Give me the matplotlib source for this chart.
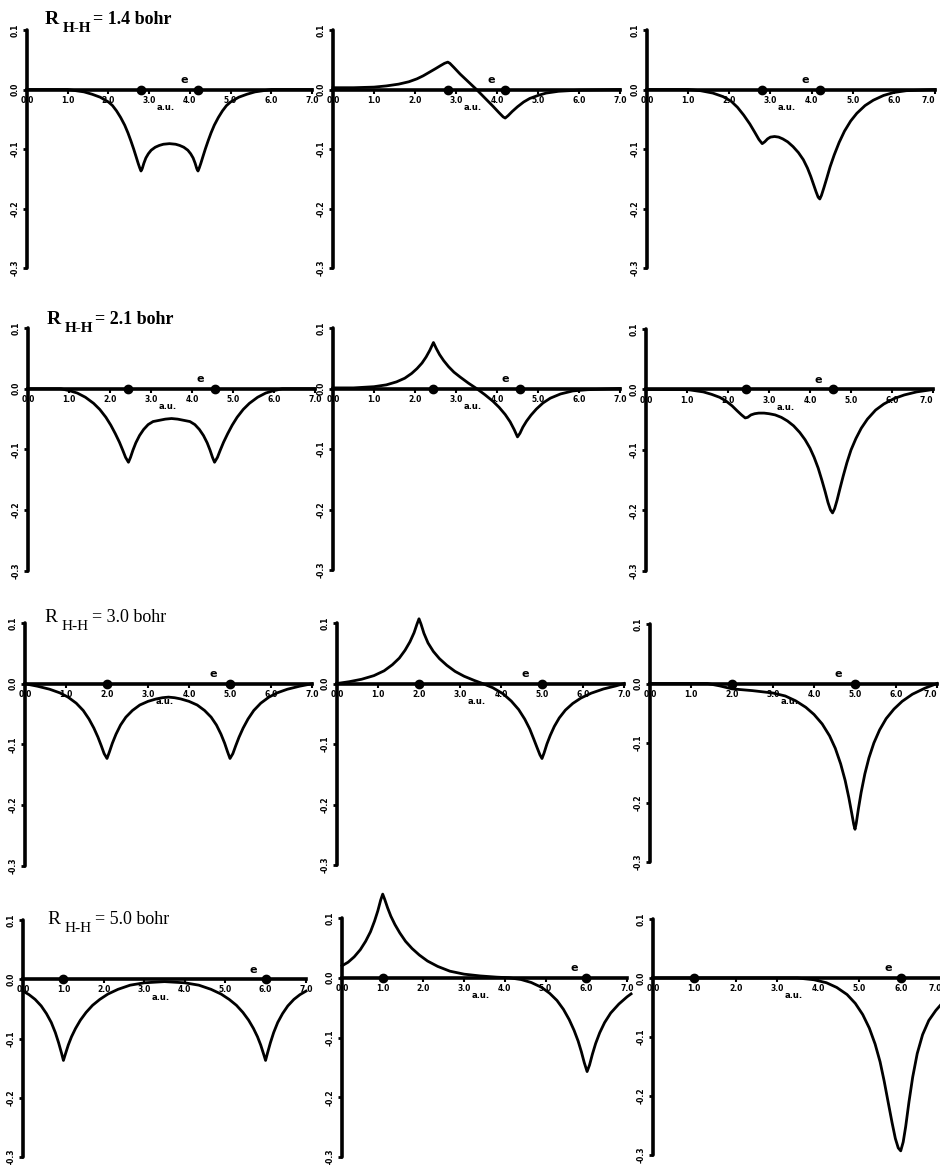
import matplotlib.pyplot as plt

W, H = 940, 1165
plt.rcParams['font.family'] = ['DejaVu Sans']

# distances and nuclei positions (a.u.) for each row
distances = ['1.4', '2.1', '3.0', '5.0']
nuclei = [[2.8, 4.2], [2.45, 4.55], [2.0, 5.0], [1.0, 6.0]]
e_mark = [3.85, 4.2, 4.6, 5.7]

x_ticks = [0, 1, 2, 3, 4, 5, 6, 7]
x_tick_labels = ['0.0', '1.0', '2.0', '3.0', '4.0', '5.0', '6.0', '7.0']
y_ticks = [0.1, 0.0, -0.1, -0.2, -0.3]
y_tick_labels = ['0.1', '0.0', '-0.1', '-0.2', '-0.3']

# row 1 (R = 1.4 bohr)
r1a_x = [0.0, 1.0, 1.2, 1.4, 1.6, 1.8, 2.0, 2.1, 2.2, 2.3, 2.4, 2.48, 2.55, 2.62, 2.68, 2.73,
         2.77, 2.8, 2.83, 2.87, 2.92, 2.98, 3.05, 3.15, 3.25, 3.35, 3.5,
         3.65, 3.75, 3.85, 3.95, 4.02, 4.08, 4.13, 4.17, 4.2, 4.23, 4.27, 4.32, 4.38, 4.45,
         4.52, 4.6, 4.7, 4.8, 4.9, 5.0, 5.2, 5.4, 5.6, 5.8, 6.0, 7.0]
r1a_y = [0.0, 0.0, -0.002, -0.004, -0.008, -0.013, -0.021, -0.027, -0.036, -0.047, -0.060,
         -0.073, -0.086, -0.100, -0.113, -0.124, -0.132, -0.137, -0.133, -0.124, -0.115,
         -0.108, -0.102, -0.097, -0.094, -0.092, -0.091,
         -0.092, -0.094, -0.097, -0.102, -0.108, -0.115, -0.124, -0.133, -0.137, -0.132,
         -0.124, -0.113, -0.100, -0.086, -0.073, -0.060, -0.047, -0.036, -0.027, -0.021,
         -0.013, -0.008, -0.004, -0.002, 0.0, 0.0]
r1b_x = [0.0, 0.5, 1.0, 1.3, 1.6, 1.85, 2.05, 2.2, 2.35, 2.5, 2.62, 2.72, 2.8, 2.85, 2.95,
         3.1, 3.3, 3.5, 3.7, 3.9, 4.05, 4.15, 4.2, 4.27, 4.37, 4.5, 4.65, 4.8, 5.0, 5.2, 5.5,
         6.0, 7.0]
r1b_y = [0.003, 0.003, 0.004, 0.006, 0.009, 0.013, 0.018, 0.023, 0.029, 0.035, 0.040, 0.044,
         0.046, 0.044, 0.037, 0.026, 0.013, 0.0, -0.014, -0.028, -0.039, -0.046, -0.048,
         -0.044, -0.037, -0.029, -0.021, -0.015, -0.010, -0.006, -0.003, -0.001, 0.0]
r1c_x = [0.0, 1.0, 1.3, 1.6, 1.85, 2.05, 2.2, 2.35, 2.5, 2.62, 2.72, 2.8, 2.86, 2.93, 3.0, 3.1,
         3.2, 3.3, 3.42, 3.55, 3.68, 3.8, 3.9, 3.98, 4.05, 4.11, 4.16, 4.2, 4.24, 4.3, 4.37,
         4.45, 4.55, 4.67, 4.8, 4.95, 5.1, 5.3, 5.5, 5.75, 6.0, 6.3, 7.0]
r1c_y = [0.0, 0.0, -0.002, -0.006, -0.012, -0.020, -0.030, -0.043, -0.058, -0.072, -0.084,
         -0.091, -0.088, -0.083, -0.080, -0.079, -0.080, -0.083, -0.088, -0.096, -0.106,
         -0.118, -0.132, -0.146, -0.160, -0.172, -0.181, -0.184, -0.178, -0.165, -0.149,
         -0.130, -0.110, -0.089, -0.070, -0.053, -0.040, -0.027, -0.018, -0.010, -0.005,
         -0.002, 0.0]

# row 2 (R = 2.1 bohr)
r2a_x = [0.0, 0.8, 1.0, 1.2, 1.4, 1.6, 1.75, 1.9, 2.02, 2.13, 2.23, 2.31, 2.38, 2.45, 2.5,
         2.56, 2.63, 2.72, 2.82, 2.93, 3.05, 3.2, 3.35, 3.5,
         3.65, 3.8, 3.95, 4.07, 4.18, 4.28, 4.37, 4.44, 4.5, 4.55, 4.62, 4.69, 4.77, 4.87,
         4.98, 5.1, 5.25, 5.4, 5.6, 5.8, 6.0, 6.2, 7.0]
r2a_y = [0.0, 0.0, -0.003, -0.007, -0.014, -0.024, -0.034, -0.047, -0.060, -0.074, -0.088,
         -0.101, -0.113, -0.121, -0.113, -0.101, -0.089, -0.077, -0.067, -0.059, -0.054,
         -0.052, -0.050, -0.049,
         -0.050, -0.052, -0.054, -0.059, -0.067, -0.077, -0.089, -0.101, -0.113, -0.121,
         -0.113, -0.101, -0.088, -0.074, -0.060, -0.047, -0.034, -0.024, -0.014, -0.007,
         -0.003, 0.0, 0.0]
r2b_x = [0.0, 0.5, 1.0, 1.3, 1.55, 1.75, 1.92, 2.05, 2.17, 2.27, 2.36, 2.45, 2.52, 2.6, 2.7,
         2.82, 2.95, 3.1, 3.3, 3.5, 3.7, 3.9, 4.05, 4.2, 4.32, 4.42, 4.5, 4.56, 4.63, 4.72,
         4.83, 4.96, 5.12, 5.3, 5.55, 5.85, 6.2, 7.0]
r2b_y = [0.001, 0.001, 0.003, 0.006, 0.011, 0.017, 0.025, 0.033, 0.042, 0.052, 0.063, 0.076,
         0.066, 0.056, 0.046, 0.036, 0.027, 0.019, 0.009, 0.0, -0.010, -0.021, -0.031,
         -0.043, -0.055, -0.068, -0.080, -0.074, -0.064, -0.054, -0.044, -0.034, -0.024,
         -0.016, -0.009, -0.004, -0.002, 0.0]
r2c_x = [0.0, 1.0, 1.2, 1.4, 1.6, 1.8, 1.95, 2.1, 2.22, 2.33, 2.42, 2.48, 2.56, 2.65, 2.75,
         2.88, 3.0, 3.15, 3.3, 3.45, 3.6, 3.75, 3.88, 4.0, 4.1, 4.2, 4.29, 4.37, 4.44, 4.5,
         4.55, 4.6, 4.66, 4.73, 4.81, 4.9, 5.0, 5.12, 5.25, 5.4, 5.6, 5.8, 6.05, 6.3, 6.6, 7.0]
r2c_y = [0.0, 0.0, -0.002, -0.004, -0.008, -0.013, -0.019, -0.027, -0.035, -0.042, -0.047,
         -0.046, -0.042, -0.040, -0.039, -0.039, -0.040, -0.042, -0.046, -0.052, -0.060,
         -0.071, -0.083, -0.097, -0.112, -0.130, -0.150, -0.169, -0.187, -0.199, -0.204,
         -0.197, -0.183, -0.164, -0.143, -0.121, -0.100, -0.081, -0.064, -0.049, -0.034,
         -0.024, -0.015, -0.009, -0.004, 0.0]

# row 3 (R = 3.0 bohr)
r3a_x = [0.0, 0.3, 0.6, 0.85, 1.05, 1.25, 1.42, 1.56, 1.68, 1.78, 1.86, 1.93, 2.0, 2.06,
         2.13, 2.22, 2.33, 2.46, 2.62, 2.8, 3.0, 3.2, 3.35, 3.5,
         3.65, 3.8, 4.0, 4.2, 4.38, 4.54, 4.67, 4.78, 4.87, 4.94, 5.0, 5.07, 5.14, 5.22,
         5.32, 5.44, 5.58, 5.75, 5.95, 6.15, 6.4, 6.7, 7.0]
r3a_y = [0.0, -0.004, -0.009, -0.015, -0.022, -0.032, -0.044, -0.058, -0.073, -0.088,
         -0.102, -0.115, -0.123, -0.112, -0.098, -0.083, -0.068, -0.055, -0.044, -0.035,
         -0.029, -0.025, -0.023, -0.022,
         -0.023, -0.025, -0.029, -0.035, -0.044, -0.055, -0.068, -0.083, -0.098, -0.112,
         -0.123, -0.115, -0.102, -0.088, -0.073, -0.058, -0.044, -0.032, -0.022, -0.015,
         -0.009, -0.004, 0.0]
r3b_x = [0.0, 0.3, 0.6, 0.9, 1.15, 1.35, 1.52, 1.66, 1.78, 1.88, 1.95, 2.0, 2.05, 2.12, 2.22,
         2.35, 2.5, 2.68, 2.88, 3.1, 3.35, 3.55, 3.8, 4.05, 4.25, 4.43, 4.58, 4.7, 4.8, 4.88,
         4.95, 5.0, 5.05, 5.12, 5.2, 5.3, 5.42, 5.57, 5.75, 5.95, 6.2, 6.5, 6.8, 7.0]
r3b_y = [0.0, 0.003, 0.007, 0.013, 0.021, 0.031, 0.042, 0.055, 0.069, 0.084, 0.098, 0.107,
         0.098, 0.083, 0.067, 0.053, 0.041, 0.030, 0.020, 0.012, 0.005, 0.0, -0.007, -0.017,
         -0.029, -0.043, -0.059, -0.075, -0.092, -0.106, -0.118, -0.124, -0.115, -0.100,
         -0.086, -0.071, -0.057, -0.044, -0.033, -0.024, -0.016, -0.009, -0.004, 0.0]
r3c_x = [0.0, 1.4, 1.7, 2.0, 2.5, 3.0, 3.3, 3.55, 3.8, 4.0, 4.2, 4.38, 4.52, 4.65, 4.76, 4.85,
         4.92, 4.97, 5.0, 5.03, 5.08, 5.15, 5.24, 5.34, 5.46, 5.6, 5.76, 5.95, 6.15, 6.4, 6.7,
         7.0]
r3c_y = [0.0, 0.0, -0.004, -0.009, -0.012, -0.016, -0.021, -0.029, -0.040, -0.052, -0.068,
         -0.088, -0.109, -0.135, -0.163, -0.192, -0.218, -0.237, -0.245, -0.235, -0.212,
         -0.183, -0.152, -0.125, -0.100, -0.078, -0.059, -0.043, -0.030, -0.018, -0.008, 0.0]

# row 4 (R = 5.0 bohr)
r4a_x = [0.0, 0.15, 0.3, 0.45, 0.58, 0.7, 0.8, 0.88, 0.95, 1.0, 1.05, 1.12, 1.2, 1.3, 1.42,
         1.56, 1.72, 1.9, 2.1, 2.35, 2.65, 3.0, 3.5,
         4.0, 4.35, 4.65, 4.9, 5.1, 5.28, 5.44, 5.58, 5.7, 5.8, 5.88, 5.95, 6.0, 6.05, 6.12,
         6.2, 6.3, 6.42, 6.55, 6.7, 6.85, 7.0]
r4a_y = [-0.020, -0.026, -0.034, -0.045, -0.058, -0.073, -0.090, -0.107, -0.124, -0.137,
         -0.126, -0.111, -0.097, -0.083, -0.069, -0.056, -0.044, -0.034, -0.025, -0.017,
         -0.010, -0.006, -0.004,
         -0.006, -0.010, -0.017, -0.025, -0.034, -0.044, -0.056, -0.069, -0.083, -0.097,
         -0.111, -0.126, -0.137, -0.124, -0.107, -0.090, -0.073, -0.058, -0.045, -0.034,
         -0.026, -0.020]
r4b_x = [0.0, 0.15, 0.3, 0.45, 0.58, 0.7, 0.8, 0.88, 0.95, 1.0, 1.05, 1.12, 1.2, 1.3, 1.42,
         1.56, 1.72, 1.9, 2.1, 2.35, 2.65, 3.0, 3.4, 3.8, 4.1, 4.4, 4.65, 4.9, 5.1, 5.28, 5.44,
         5.58, 5.7, 5.8, 5.88, 5.95, 6.02, 6.08, 6.15, 6.23, 6.33, 6.45, 6.6, 6.8, 7.0, 7.1]
r4b_y = [0.020, 0.026, 0.035, 0.047, 0.061, 0.077, 0.095, 0.112, 0.130, 0.140, 0.131, 0.117,
         0.103, 0.089, 0.075, 0.061, 0.049, 0.038, 0.028, 0.019, 0.011, 0.006, 0.003, 0.001,
         0.0, -0.003, -0.008, -0.016, -0.026, -0.038, -0.053, -0.070, -0.088, -0.106, -0.124,
         -0.142, -0.157, -0.146, -0.128, -0.110, -0.092, -0.075, -0.059, -0.044, -0.032,
         -0.027]
r4c_x = [0.0, 3.5, 3.9, 4.2, 4.45, 4.7, 4.9, 5.08, 5.24, 5.38, 5.5, 5.6, 5.7, 5.79, 5.87,
         5.94, 6.0, 6.06, 6.12, 6.2, 6.29, 6.4, 6.53, 6.68, 6.85, 7.0, 7.1]
r4c_y = [0.0, 0.0, -0.003, -0.008, -0.016, -0.028, -0.043, -0.062, -0.085, -0.112, -0.142,
         -0.175, -0.212, -0.245, -0.272, -0.288, -0.293, -0.278, -0.252, -0.210, -0.168,
         -0.128, -0.096, -0.072, -0.055, -0.043, -0.037]

curves = [[(r1a_x, r1a_y), (r1b_x, r1b_y), (r1c_x, r1c_y)],
          [(r2a_x, r2a_y), (r2b_x, r2b_y), (r2c_x, r2c_y)],
          [(r3a_x, r3a_y), (r3b_x, r3b_y), (r3c_x, r3c_y)],
          [(r4a_x, r4a_y), (r4b_x, r4b_y), (r4c_x, r4c_y)]]

# panel boxes in pixels: x of 0.0, x of 7.0, y of 0.1, y of -0.3
boxes = [[(27, 312, 30, 268), (333, 620, 30, 268), (647, 935, 30, 268)],
         [(28, 315, 328, 571), (333, 620, 328, 570), (646, 933, 329, 571)],
         [(25, 312, 623, 866), (337, 624, 623, 865), (650, 937, 624, 862)],
         [(23, 306, 920, 1157), (342, 627, 918, 1157), (653, 942, 919, 1155)]]
title_pos = [(45, 20), (47, 320), (44, 617), (47, 920)]

fig = plt.figure(figsize=(W / 100, H / 100), dpi=100)

for i in range(4):
    for j in range(3):
        x0, x7, top, bot = boxes[i][j]
        ax = fig.add_axes([x0 / W, 1 - bot / H, (x7 - x0) / W, (bot - top) / H])
        ax.set_xlim(0, 7)
        ax.set_ylim(-0.3, 0.1)
        ax.patch.set_visible(False)
        for s in ['top', 'right']:
            ax.spines[s].set_visible(False)
        ax.spines['bottom'].set_position(('data', 0))
        ax.spines['bottom'].set_linewidth(2.6)
        ax.spines['left'].set_linewidth(2.6)
        ax.spines['left'].set_capstyle('round')

        ax.set_xticks(x_ticks)
        ax.set_xticklabels(x_tick_labels, fontsize=5.5, fontweight='bold')
        if j == 2:
            # last label sits at the page edge, as in the scan
            ax.get_xticklabels()[-1].set_horizontalalignment('right')
        ax.set_yticks(y_ticks)
        ax.set_yticklabels(y_tick_labels, fontsize=5.5, fontweight='bold', rotation=90,
                           va='center')
        ax.tick_params(axis='x', direction='out', length=3, width=1.5, pad=1.5)
        ax.tick_params(axis='y', direction='out', length=3, width=2, pad=2)

        cx, cy = curves[i][j]
        ax.plot(cx, cy, color='black', lw=2.0, clip_on=False, solid_joinstyle='round')
        ax.plot(nuclei[i], [0, 0], 'o', color='black', ms=6, clip_on=False)
        ax.text(e_mark[i], 0.008, 'e', fontsize=8, fontweight='bold', ha='center', va='bottom')
        ax.text(3.4, -0.03, 'a.u.', fontsize=6, fontweight='bold', ha='center', va='center')

    # title "R_H-H= d bohr"
    tx, ty = title_pos[i]
    wt = 'bold' if i < 2 else 'normal'
    fig.text(tx / W, 1 - ty / H, 'R', fontsize=14, family='Liberation Serif',
             fontweight=wt, va='center')
    fig.text((tx + 18) / W, 1 - (ty + 9) / H, 'H-H', fontsize=11, family='Liberation Serif',
             fontweight=wt, va='center')
    fig.text((tx + 48) / W, 1 - ty / H, '= ' + distances[i] + ' bohr', fontsize=13,
             family='Liberation Serif', fontweight=wt, va='center')

fig.savefig('out.png', dpi=100, facecolor='white')
